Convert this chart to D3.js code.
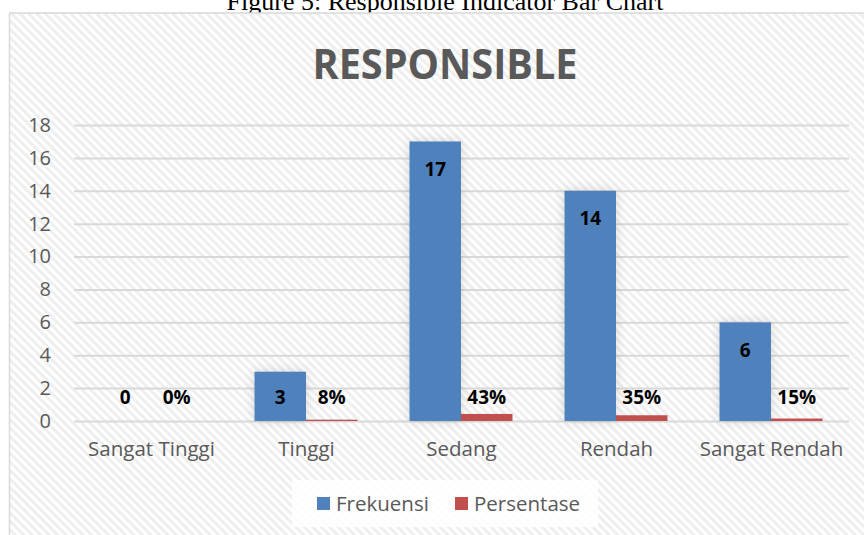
<!DOCTYPE html>
<html>
<head>
<meta charset="utf-8">
<script src="https://cdn.jsdelivr.net/npm/d3@7"></script>
<style>
  body { margin: 0; background: #fff; }
  svg { display: block; }
</style>
</head>
<body>
<div id="wrapper"></div>
<script>
const categories = ["Sangat Tinggi", "Tinggi", "Sedang", "Rendah", "Sangat Rendah"];
const frekuensi = [0, 3, 17, 14, 6];
const persentase = [0, 0.08, 0.43, 0.35, 0.15];
const yTicks = [0, 2, 4, 6, 8, 10, 12, 14, 16, 18];
const seriesNames = ["Frekuensi", "Persentase"];
const colors = ["#4f81bd", "#c0504d"];

const width = 864;
const height = 535;
const plot = { left: 74, right: 849, top: 125, bottom: 421 };
const font = "'Open Sans', 'Noto Sans', sans-serif";

const svg = d3.select("#wrapper")
  .append("svg")
  .attr("width", width)
  .attr("height", height);

const defs = svg.append("defs");
const pattern = defs.append("pattern")
  .attr("id", "stripes")
  .attr("patternUnits", "userSpaceOnUse")
  .attr("width", 6)
  .attr("height", 6)
  .attr("patternTransform", "rotate(45)");
pattern.append("rect").attr("width", 6).attr("height", 6).attr("fill", "#ffffff");
pattern.append("rect").attr("width", 6).attr("height", 3).attr("fill", "#efefef");

const shadow = defs.append("filter")
  .attr("id", "shadow")
  .attr("x", "-50%").attr("y", "-50%")
  .attr("width", "200%").attr("height", "200%");
shadow.append("feGaussianBlur").attr("in", "SourceAlpha").attr("stdDeviation", 6).attr("result", "blur");
shadow.append("feFlood").attr("flood-color", "#000").attr("flood-opacity", 0.15);
shadow.append("feComposite").attr("in2", "blur").attr("operator", "in").attr("result", "sh");
const merge = shadow.append("feMerge");
merge.append("feMergeNode").attr("in", "sh");
merge.append("feMergeNode").attr("in", "SourceGraphic");

// figure caption, cut off at the top like the source page
svg.append("text")
  .attr("x", 445)
  .attr("y", 10)
  .attr("text-anchor", "middle")
  .style("font-family", "'Liberation Serif', 'Times New Roman', serif")
  .style("font-size", "26px")
  .attr("fill", "#000")
  .text("Figure 5: Responsible Indicator Bar Chart");

// chart area
svg.append("rect")
  .attr("x", 9.5)
  .attr("y", 13)
  .attr("width", 870)
  .attr("height", 540)
  .attr("fill", "url(#stripes)")
  .attr("stroke", "#d9d9d9")
  .attr("stroke-width", 1.5);

svg.append("text")
  .attr("x", 445)
  .attr("y", 79)
  .attr("text-anchor", "middle")
  .attr("textLength", 265)
  .attr("lengthAdjust", "spacingAndGlyphs")
  .style("font-family", font)
  .style("font-weight", "bold")
  .style("font-size", "41px")
  .attr("fill", "#595959")
  .text("RESPONSIBLE");

const xScale = d3.scaleBand()
  .domain(categories)
  .range([plot.left, plot.right]);

const xInner = d3.scaleBand()
  .domain(seriesNames)
  .range([0, 103]);

const yScale = d3.scaleLinear()
  .domain([0, 18])
  .range([plot.bottom, plot.top]);

// gridlines + y labels
const yAxis = svg.append("g")
  .attr("transform", `translate(${plot.left},0)`)
  .call(d3.axisLeft(yScale).tickValues(yTicks).tickSize(-(plot.right - plot.left)).tickPadding(23));
yAxis.select(".domain").remove();
yAxis.selectAll(".tick line").attr("stroke", "#d9d9d9").attr("stroke-width", 2);
yAxis.selectAll(".tick text")
  .attr("fill", "#595959")
  .style("font-family", font)
  .style("font-size", "20px");

// x labels
const xAxis = svg.append("g")
  .attr("transform", `translate(0,${plot.bottom})`)
  .call(d3.axisBottom(xScale).tickSize(0).tickPadding(20));
xAxis.select(".domain").remove();
xAxis.selectAll(".tick text")
  .attr("fill", "#595959")
  .style("font-family", font)
  .style("font-size", "20.5px");

const rows = categories.map((c, i) => ({ cat: c, values: [frekuensi[i], persentase[i]] }));

const groups = svg.append("g").selectAll("g")
  .data(rows)
  .join("g")
  .attr("transform", d => `translate(${xScale(d.cat) + xScale.bandwidth() / 2 - 52},0)`);

groups.selectAll("rect")
  .data(d => d.values.map((v, j) => ({ v, j })))
  .join("rect")
  .attr("x", d => xInner(seriesNames[d.j]))
  .attr("width", xInner.bandwidth())
  .attr("y", d => yScale(d.v))
  .attr("height", d => yScale(0) - yScale(d.v))
  .attr("fill", d => colors[d.j])
  .attr("filter", d => d.v > 1 ? "url(#shadow)" : null);

groups.selectAll("text")
  .data(d => d.values.map((v, j) => ({ v, j })))
  .join("text")
  .attr("x", d => xInner(seriesNames[d.j]) + xInner.bandwidth() / 2)
  .attr("y", d => Math.min(yScale(d.v) + 28, yScale(0) - 24))
  .attr("dy", "0.35em")
  .attr("text-anchor", "middle")
  .style("font-family", font)
  .style("font-weight", "bold")
  .style("font-size", "19px")
  .attr("fill", "#000")
  .text(d => d.j === 0 ? d.v : Math.round(d.v * 100) + "%");

// legend
const legend = svg.append("g");
legend.append("rect")
  .attr("x", 292).attr("y", 480)
  .attr("width", 306).attr("height", 47)
  .attr("fill", "#fff")
  .attr("opacity", 0.85);
const legendX = [317, 455];
seriesNames.forEach((name, i) => {
  legend.append("rect")
    .attr("x", legendX[i]).attr("y", 497)
    .attr("width", 13).attr("height", 13)
    .attr("fill", colors[i]);
  legend.append("text")
    .attr("x", legendX[i] + 19).attr("y", 504)
    .attr("dy", "0.35em")
    .style("font-family", font)
    .style("font-size", "20.5px")
    .attr("fill", "#595959")
    .text(name);
});
</script>
</body>
</html>
